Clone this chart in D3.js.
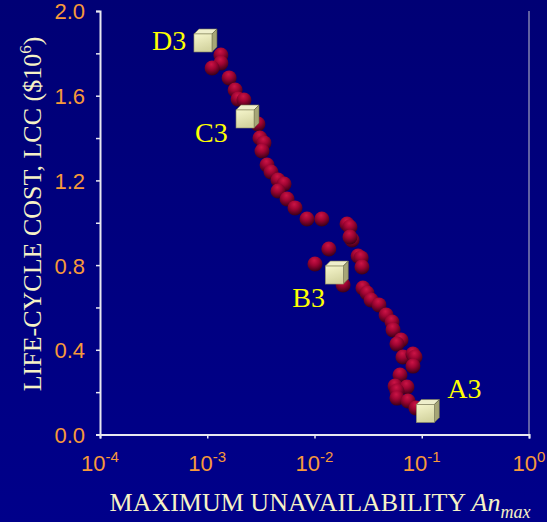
<!DOCTYPE html>
<html><head><meta charset="utf-8">
<script src="https://cdn.jsdelivr.net/npm/d3@7"></script>
<style>html,body{margin:0;padding:0;background:#000080;}svg{display:block;}</style>
</head><body>
<script>
// Sphere points: maximum unavailability (An_max) and LCC ($10^6)
const unavail = [1.34e-3,1.34e-3,1.11e-3,1.60e-3,1.82e-3,1.94e-3,2.20e-3,2.97e-3,3.10e-3,3.38e-3,3.24e-3,3.61e-3,3.93e-3,4.57e-3,5.20e-3,4.57e-3,5.55e-3,6.58e-3,8.51e-3,1.17e-2,2.01e-2,2.14e-2,2.24e-2,2.14e-2,1.36e-2,1.01e-2,2.55e-2,2.72e-2,2.77e-2,1.85e-2,2.83e-2,3.09e-2,3.37e-2,3.99e-2,4.65e-2,5.28e-2,5.40e-2,6.41e-2,5.87e-2,6.68e-2,8.28e-2,8.65e-2,8.28e-2,6.27e-2,5.64e-2,7.28e-2,5.87e-2,5.87e-2,7.45e-2,8.83e-2];
const lcc     = [1.792,1.754,1.731,1.684,1.627,1.584,1.580,1.466,1.400,1.377,1.339,1.273,1.240,1.202,1.183,1.150,1.112,1.070,1.018,1.018,0.994,0.980,0.919,0.933,0.876,0.805,0.843,0.834,0.791,0.706,0.692,0.668,0.635,0.612,0.564,0.531,0.494,0.446,0.427,0.366,0.380,0.366,0.323,0.281,0.229,0.224,0.205,0.172,0.158,0.125];
// Labelled designs (cubes)
const designNames = ["D3","C3","B3","A3"];
const designUnavail = [9.12e-4,2.25e-3,1.53e-2,0.108];
const designLcc = [1.849,1.490,0.753,0.099];
// Axes ticks
const xTickExps = [-4,-3,-2,-1,0];
const yTicks = [0.0,0.4,0.8,1.2,1.6,2.0];
const yMinorTicks = [0.2,0.6,1.0,1.4,1.8];

const W = 547, H = 522;
const L = 100, R = 529, T = 11, B = 434.5;
const svg = d3.select("body").append("svg").attr("width", W).attr("height", H);
const defs = svg.append("defs");
const bg = defs.append("linearGradient").attr("id","bg").attr("x1",0).attr("y1",0).attr("x2",0).attr("y2",1);
bg.append("stop").attr("offset","0%").attr("stop-color","#000075");
bg.append("stop").attr("offset","100%").attr("stop-color","#00008a");
svg.append("rect").attr("width",W).attr("height",H).attr("fill","url(#bg)");

const sg = defs.append("radialGradient").attr("id","sph").attr("cx","45%").attr("cy","30%").attr("r","70%").attr("fx","45%").attr("fy","25%");
sg.append("stop").attr("offset","0%").attr("stop-color","#cc1446");
sg.append("stop").attr("offset","45%").attr("stop-color","#9e0432");
sg.append("stop").attr("offset","100%").attr("stop-color","#380018");

const fg = defs.append("linearGradient").attr("id","front").attr("x1",0).attr("y1",0).attr("x2",0.3).attr("y2",1);
fg.append("stop").attr("offset","0%").attr("stop-color","#f6f6cc");
fg.append("stop").attr("offset","100%").attr("stop-color","#d4d4a0");

const x = d3.scaleLog().domain([1e-4, 1]).range([L, R]);
const y = d3.scaleLinear().domain([0, 2]).range([B, T]);

const axisCol = "#e8e8f0", orange = "#f7993a";

// right frame line
svg.append("line").attr("x1",R).attr("x2",R).attr("y1",T).attr("y2",B)
  .attr("stroke","#8080b0").attr("stroke-width",1.5);

// y axis
const yAx = svg.append("g").attr("transform",`translate(${L},0)`)
  .call(d3.axisLeft(y).tickValues(yTicks.concat(yMinorTicks)).tickSize(4).tickFormat(d => yTicks.includes(d) ? d3.format(".1f")(d) : ""));
yAx.select(".domain").attr("stroke",axisCol).attr("stroke-width",2);
yAx.selectAll(".tick line").attr("stroke",axisCol).attr("stroke-width",1.5);
yAx.selectAll(".tick text").attr("fill",orange).attr("font-family","Liberation Sans, Arial, sans-serif")
  .attr("font-size",22).attr("x",-15).attr("dy","0.36em");

// x axis
const xAx = svg.append("g").attr("transform",`translate(0,${B})`)
  .call(d3.axisBottom(x).tickValues(xTickExps.map(e => Math.pow(10,e))).tickSize(4).tickFormat(""));
xAx.select(".domain").attr("stroke",axisCol).attr("stroke-width",2);
xAx.selectAll(".tick line").attr("stroke",axisCol).attr("stroke-width",1.5);
const xl = svg.append("g");
xTickExps.forEach(e => {
  const t = xl.append("text").attr("x", x(Math.pow(10,e))).attr("y", 471)
    .attr("text-anchor","middle").attr("fill",orange)
    .attr("font-family","Liberation Sans, Arial, sans-serif").attr("font-size",22);
  t.append("tspan").text("10");
  t.append("tspan").attr("font-size",15).attr("dy",-9).text(String(e));
});

// axis titles
const titleCol = "#f6f2c6";
const xt = svg.append("text").attr("x", 320).attr("y", 511).attr("text-anchor","middle")
  .attr("fill",titleCol).attr("font-family","Liberation Serif, Times New Roman, serif").attr("font-size",26);
xt.append("tspan").text("MAXIMUM UNAVAILABILITY ");
xt.append("tspan").attr("font-style","italic").text("An");
xt.append("tspan").attr("font-style","italic").attr("font-size",18).attr("dy",7).text("max");

const yt = svg.append("text").attr("transform","translate(41,214) rotate(-90)").attr("text-anchor","middle")
  .attr("fill",titleCol).attr("font-family","Liberation Serif, Times New Roman, serif").attr("font-size",26);
yt.append("tspan").text("LIFE-CYCLE COST, LCC ($10");
yt.append("tspan").attr("font-size",17).attr("dy",-10).text("6");
yt.append("tspan").attr("dy",10).text(")");

// spheres
const pts = unavail.map((u,i) => ({u, c: lcc[i]}));
svg.append("g").selectAll("circle").data(pts).join("circle")
  .attr("cx", d => x(d.u)).attr("cy", d => y(d.c)).attr("r", 7.5)
  .attr("fill","url(#sph)");

// cubes
const s = 18, dd = 5;
const designs = designNames.map((n,i) => ({n, u: designUnavail[i], c: designLcc[i]}));
const cg = svg.append("g").selectAll("g").data(designs).join("g")
  .attr("transform", d => `translate(${x(d.u) - s/2},${y(d.c) - s/2})`);
cg.append("path").attr("d", `M0,0 L${dd},${-dd} L${s+dd},${-dd} L${s},0 Z`)
  .attr("fill","#efefcc").attr("stroke","#77774e").attr("stroke-width",0.6);
cg.append("path").attr("d", `M${s},0 L${s+dd},${-dd} L${s+dd},${s-dd} L${s},${s} Z`)
  .attr("fill","#a6a676").attr("stroke","#6a6a44").attr("stroke-width",0.6);
cg.append("rect").attr("width",s).attr("height",s)
  .attr("fill","url(#front)").attr("stroke","#8a8a60").attr("stroke-width",0.6);

// labels
const labelOff = {D3:[-51, 7], C3:[-50, 23], B3:[-42, 32], A3:[22, -16]};
svg.append("g").selectAll("text").data(designs).join("text")
  .attr("x", d => x(d.u) + labelOff[d.n][0]).attr("y", d => y(d.c) + labelOff[d.n][1])
  .attr("fill","#ffff00").attr("font-family","Liberation Serif, Times New Roman, serif")
  .attr("font-size",28).text(d => d.n);
</script>
</body></html>
